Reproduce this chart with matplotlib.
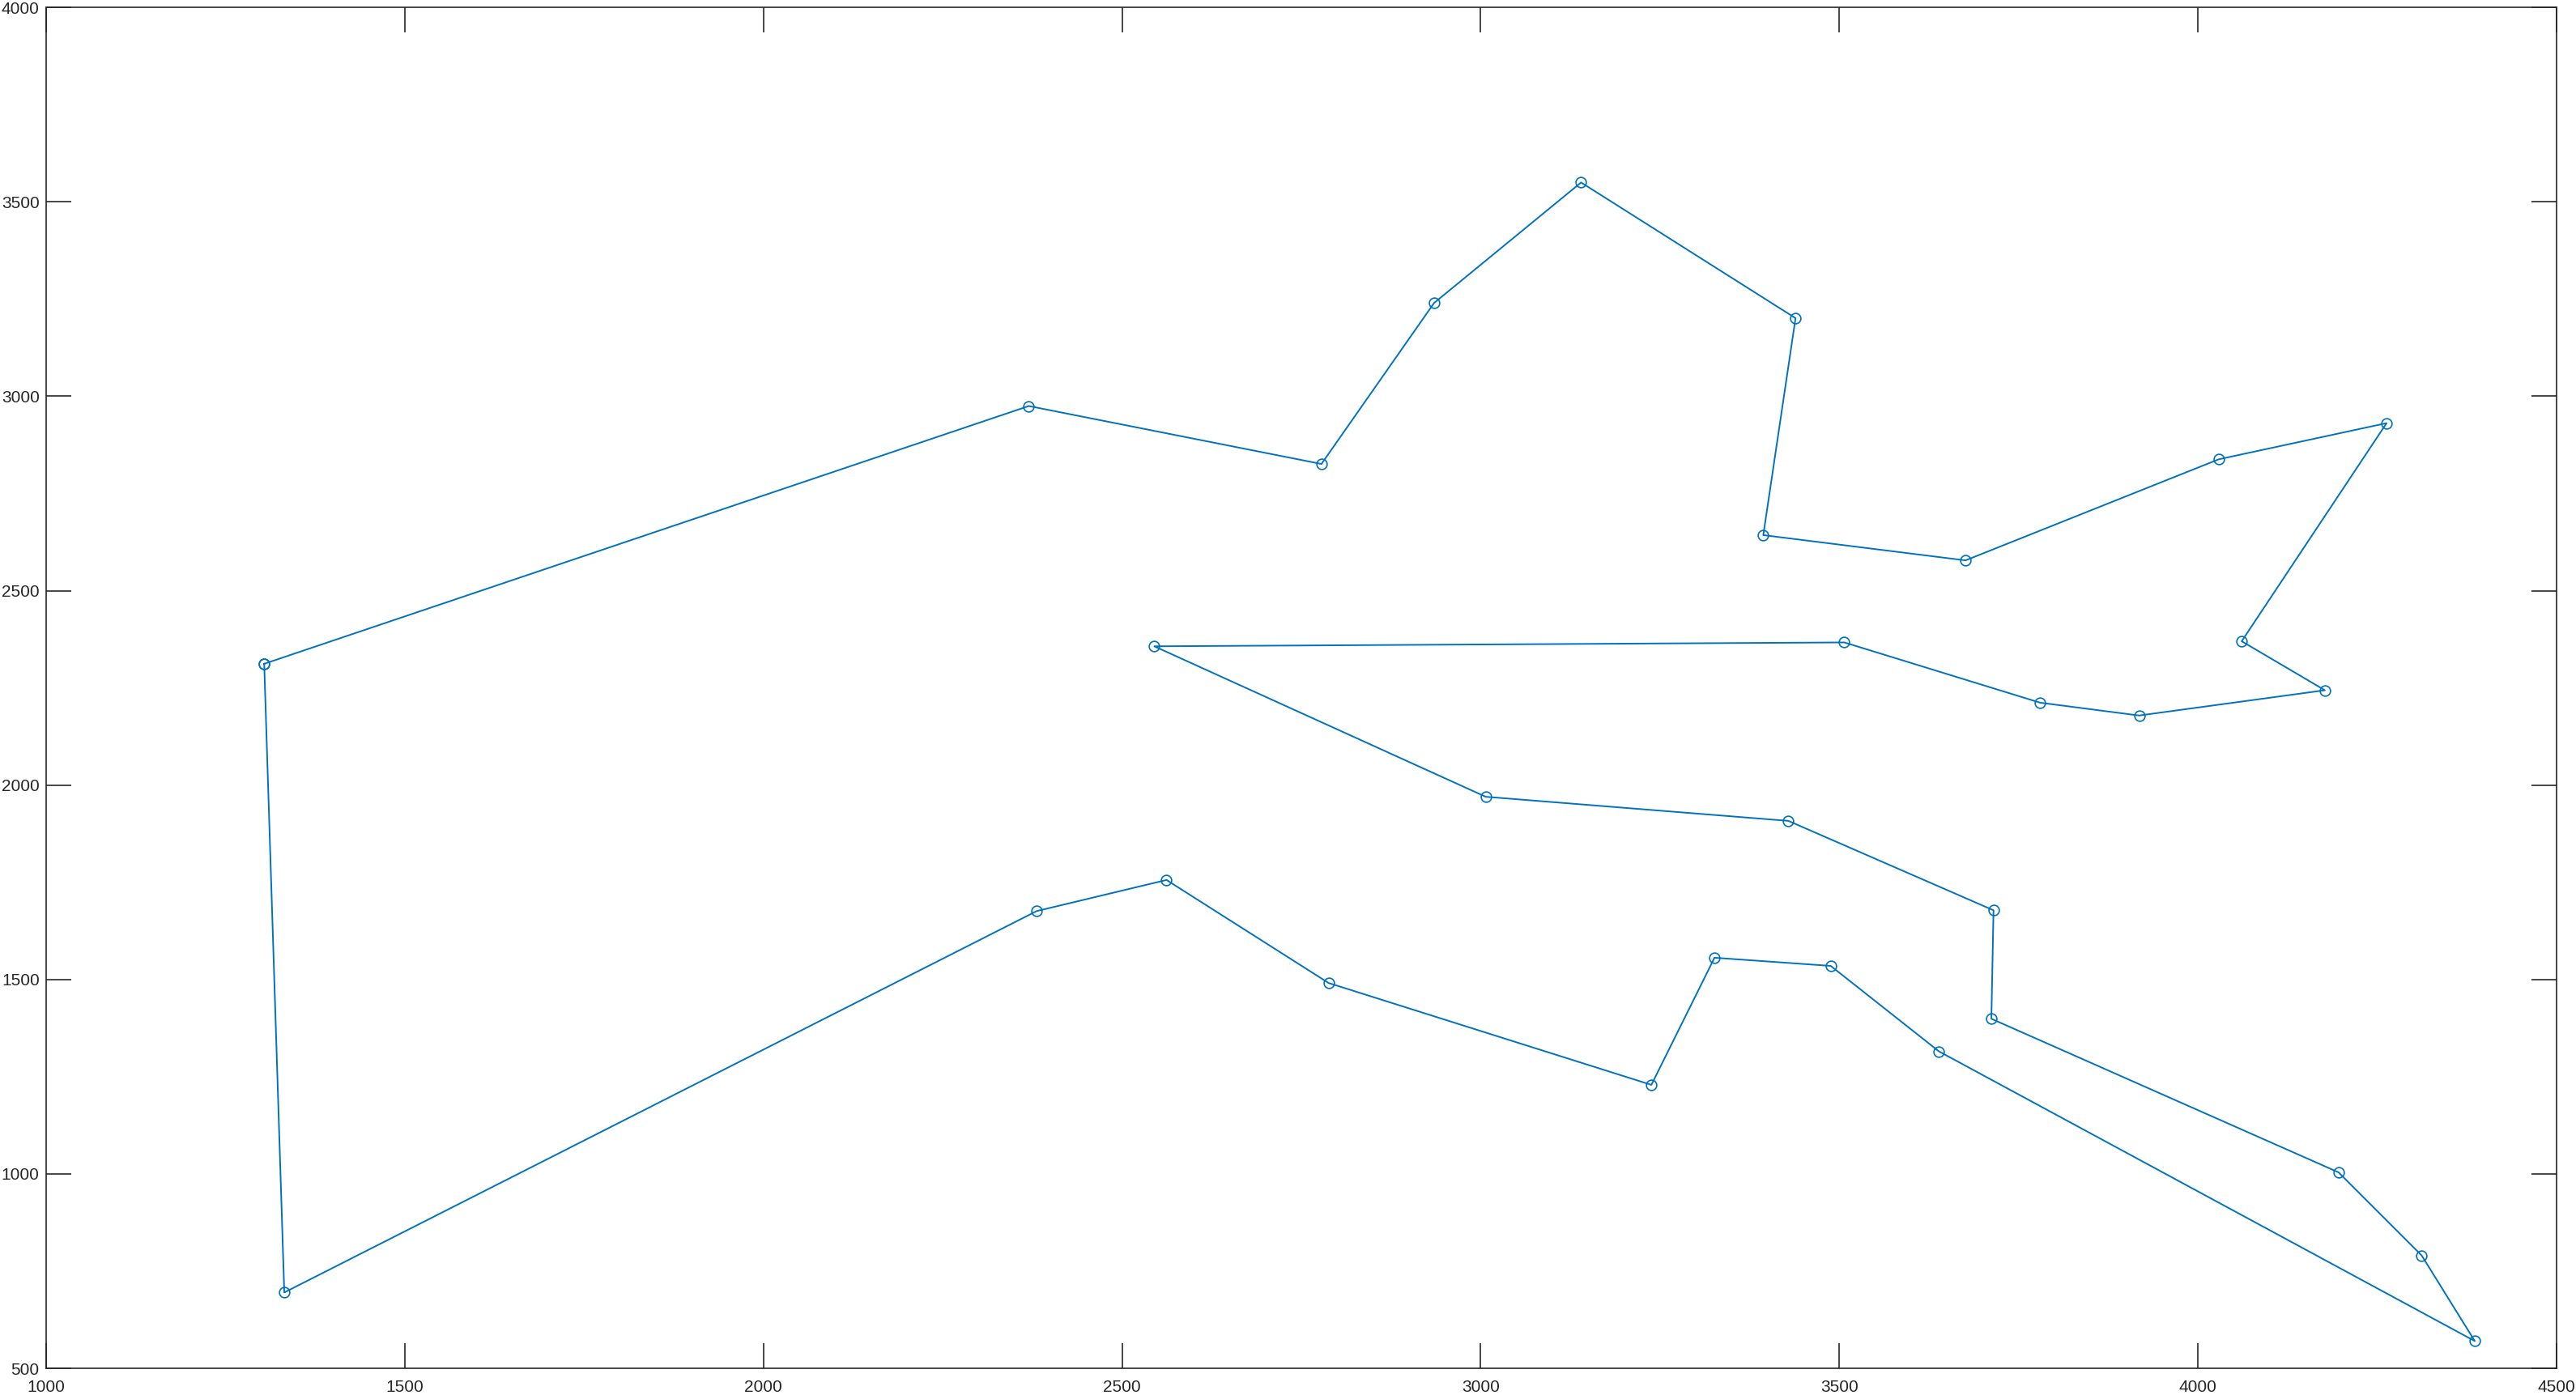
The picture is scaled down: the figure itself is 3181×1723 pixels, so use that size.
import matplotlib.pyplot as plt
import numpy as np

# city coordinates in tour order (closed route)
tour_x = [1304, 2370, 2778, 2935, 3140, 3439, 3394, 3676, 4029, 4263, 4061,
          4177, 3918, 3780, 3507, 2545, 3007, 3429, 3715, 3712, 4196, 4312,
          4386, 3639, 3488, 3326, 3238, 2788, 2562, 2381, 1332]
tour_y = [2312, 2975, 2826, 3240, 3550, 3201, 2643, 2578, 2838, 2931, 2370,
          2244, 2179, 2212, 2367, 2357, 1970, 1908, 1678, 1399, 1004, 790,
          570, 1315, 1535, 1556, 1229, 1491, 1756, 1676, 695]

x_ticks = [1000, 1500, 2000, 2500, 3000, 3500, 4000, 4500]
y_ticks = [500, 1000, 1500, 2000, 2500, 3000, 3500, 4000]

plt.rcParams['font.family'] = ['Liberation Sans', 'DejaVu Sans']

fig = plt.figure(figsize=(3181 / 200, 1723 / 200), dpi=200)
ax = fig.add_axes([57 / 3181, 1 - 1690 / 1723, 3100 / 3181, 1680.7 / 1723])

xs = np.append(tour_x, tour_x[0])
ys = np.append(tour_y, tour_y[0])
ax.plot(xs, ys, color='#0072BD', linewidth=0.7, marker='o', markersize=4.6,
        markerfacecolor='none', markeredgewidth=0.6)

ax.set_xlim(1000, 4500)
ax.set_ylim(500, 4000)
ax.set_xticks(x_ticks)
ax.set_yticks(y_ticks)

ax.tick_params(direction='in', length=11, width=0.6, top=True, right=True,
               labelsize=7.5, colors='#262626', pad=5)
ax.tick_params(axis='y', pad=3)
for s in ax.spines.values():
    s.set_linewidth(0.6)
    s.set_color('#262626')

fig.savefig('out.png', dpi=200)
